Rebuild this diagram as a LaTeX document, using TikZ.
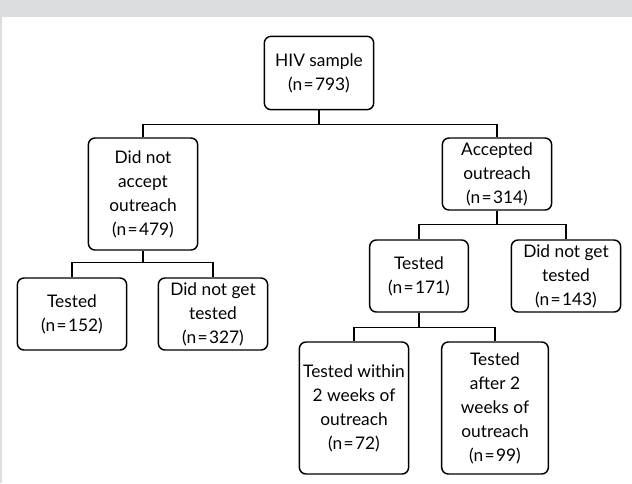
\documentclass[tikz,border=0pt]{standalone}
\usepackage{fontspec}
\setmainfont{Lato}
\usetikzlibrary{positioning}
\definecolor{panelgray}{HTML}{DCDDDE}
\newcommand{\eqn}{\kern1pt=\kern1pt}
\tikzset{
  box/.style={draw, line width=1.1pt, rounded corners=5pt, align=center,
    inner sep=1pt, font=\fontsize{13}{18}\selectfont,
    minimum width=82pt},
  link/.style={line width=1.1pt}
}

\begin{document}
\begin{tikzpicture}[x=0.75pt,y=-0.75pt]
            \useasboundingbox (0,0) rectangle (632,483);
            \fill[panelgray] (0,0) rectangle (632,483);
            \fill[white] (2,17) rectangle (632,483);

            % top level
            \node[box,minimum height=55pt] (hiv) at (319,73) {HIV sample\\(n\eqn793)};

            % outreach split
            \node[box,minimum height=84pt] (noacc) at (143,194) {Did not\\accept\\outreach\\(n\eqn479)};
            \node[box,minimum height=54pt] (acc) at (497,174) {Accepted\\outreach\\(n\eqn314)};

            % did not accept
            \node[box,minimum height=54pt] (nt1) at (72,314) {Tested\\(n\eqn152)};
            \node[box,minimum height=54pt] (nn1) at (213,314) {Did not get\\tested\\(n\eqn327)};

            % accepted
            \node[box,minimum width=74pt,minimum height=54pt] (at) at (419,276) {Tested\\(n\eqn171)};
            \node[box,minimum height=54pt] (an) at (566,276) {Did not get\\tested\\(n\eqn143)};

            % timing
            \node[box,minimum height=99pt] (early) at (354,408) {Tested within\\2 weeks of\\outreach\\(n\eqn72)};
            \node[box,minimum width=80pt,minimum height=99pt] (late) at (495,408) {Tested\\after 2\\weeks of\\outreach\\(n\eqn99)};

            \draw[link] (hiv.south) -- ++(0,14) -| (noacc.north);
            \draw[link] (hiv.south) -- ++(0,14) -| (acc.north);
            \draw[link] (noacc.south) -- ++(0,12) -| (nt1.north);
            \draw[link] (noacc.south) -- ++(0,12) -| (nn1.north);
            \draw[link] (acc.south) -- ++(0,14) -| (at.north);
            \draw[link] (acc.south) -- ++(0,14) -| (an.north);
            \draw[link] (at.south) -- ++(0,15) -| (early.north);
            \draw[link] (at.south) -- ++(0,15) -| (late.north);
\end{tikzpicture}
\end{document}
